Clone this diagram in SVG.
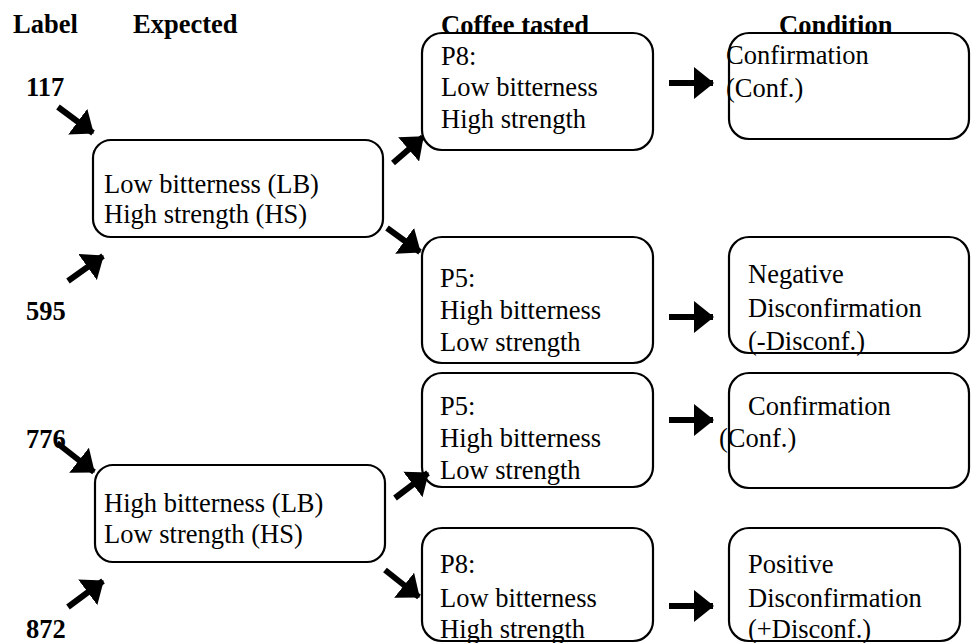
<svg xmlns="http://www.w3.org/2000/svg" width="971" height="643" viewBox="0 0 971 643">
<defs>
<style>
text{font-family:"Liberation Serif","Times New Roman",serif;font-size:26.5px;fill:#000}
.b{font-weight:bold}
.box{fill:#fff;stroke:#000;stroke-width:2.2}
.arr{stroke:#000;stroke-width:6;fill:none;marker-end:url(#ah)}
</style>
<marker id="ah" viewBox="0 0 20 32" markerWidth="20" markerHeight="32" refX="19" refY="16" orient="auto" markerUnits="userSpaceOnUse">
<path d="M0,0 L20,16 L0,32 z" fill="#000"/>
</marker>
</defs>
<rect width="971" height="643" fill="#fff"/>
<g id="headers">
<text class="b" x="13" y="33">Label</text>
<text class="b" x="133" y="33">Expected</text>
<text class="b" x="441" y="34">Coffee tasted</text>
<text class="b" x="779" y="34">Condition</text>
</g>
<g id="labels">
<text class="b" x="26" y="96">117</text>
<text class="b" x="26" y="320">595</text>
<text class="b" x="26" y="448">776</text>
<text class="b" x="26" y="638">872</text>
</g>
<g id="exp1">
<rect class="box" x="93" y="140" width="290" height="97" rx="18"/>
<text x="104" y="193">Low bitterness (LB)</text>
<text x="104" y="223">High strength (HS)</text>
</g>
<g id="exp2">
<rect class="box" x="95" y="465" width="290" height="97" rx="18"/>
<text x="104" y="512">High bitterness (LB)</text>
<text x="104" y="543">Low strength (HS)</text>
</g>
<g id="p8a">
<rect class="box" x="422" y="33" width="231" height="117" rx="20"/>
<text x="441" y="65">P8:</text>
<text x="441" y="96">Low bitterness</text>
<text x="441" y="128">High strength</text>
</g>
<g id="p5a">
<rect class="box" x="422" y="237" width="231" height="126" rx="20"/>
<text x="440" y="287">P5:</text>
<text x="440" y="319">High bitterness</text>
<text x="440" y="351">Low strength</text>
</g>
<g id="p5b">
<rect class="box" x="422" y="373" width="231" height="114" rx="20"/>
<text x="440" y="415">P5:</text>
<text x="440" y="447">High bitterness</text>
<text x="440" y="479">Low strength</text>
</g>
<g id="p8b">
<rect class="box" x="422" y="528" width="231" height="113" rx="20"/>
<text x="440" y="573">P8:</text>
<text x="440" y="607">Low bitterness</text>
<text x="440" y="638">High strength</text>
</g>
<g id="cond1">
<rect class="box" x="729" y="33" width="240" height="106" rx="20"/>
<text x="726" y="64">Confirmation</text>
<text x="726" y="97">(Conf.)</text>
</g>
<g id="cond2">
<rect class="box" x="729" y="237" width="240" height="116" rx="20"/>
<text x="748" y="283">Negative</text>
<text x="748" y="317">Disconfirmation</text>
<text x="748" y="350">(-Disconf.)</text>
</g>
<g id="cond3">
<rect class="box" x="729" y="373" width="240" height="115" rx="20"/>
<text x="748" y="415">Confirmation</text>
<text x="719" y="447">(Conf.)</text>
</g>
<g id="cond4">
<rect class="box" x="729" y="528" width="231" height="113" rx="20"/>
<text x="748" y="573">Positive</text>
<text x="748" y="607">Disconfirmation</text>
<text x="748" y="638">(+Disconf.)</text>
</g>
<g id="connectors">
<line class="arr" x1="58" y1="107" x2="93" y2="133"/>
<line class="arr" x1="68" y1="281" x2="103" y2="256"/>
<line class="arr" x1="57" y1="443" x2="94" y2="472"/>
<line class="arr" x1="68" y1="607" x2="103" y2="581"/>
<line class="arr" x1="393" y1="163" x2="423" y2="137"/>
<line class="arr" x1="387" y1="228" x2="420" y2="252"/>
<line class="arr" x1="395" y1="498" x2="428" y2="473"/>
<line class="arr" x1="385" y1="570" x2="419" y2="597"/>
<line class="arr" x1="669" y1="83" x2="713" y2="83"/>
<line class="arr" x1="669" y1="317" x2="713" y2="317"/>
<line class="arr" x1="669" y1="420" x2="713" y2="420"/>
<line class="arr" x1="669" y1="606" x2="713" y2="606"/>
</g>
</svg>
